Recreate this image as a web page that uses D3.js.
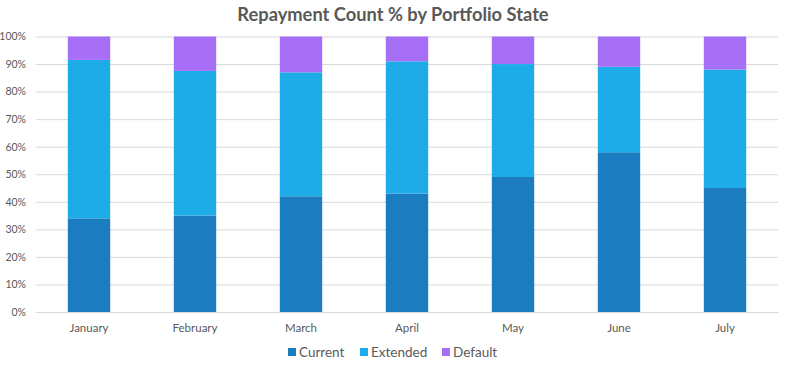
<!DOCTYPE html>
<html><head><meta charset="utf-8">
<script src="https://cdn.jsdelivr.net/npm/d3@7"></script>
<style>body{margin:0;background:#fff}svg{display:block}text{font-family:Lato,"Open Sans",sans-serif}</style>
</head><body><svg id="c" width="787" height="366"></svg>
<script>
const categories = ["January","February","March","April","May","June","July"];
const current = [34, 35, 42, 43, 49, 58, 45];
const extended = [57.5, 52.5, 45, 48, 41, 31, 43];
const defaulted = [8.5, 12.5, 13, 9, 10, 11, 12];
const seriesNames = ["Current","Extended","Default"];
const colors = ["#1c7cc0","#1eace8","#a66ff5"];
const yTicks = [0,10,20,30,40,50,60,70,80,90,100];

const svg = d3.select("#c");
const m = {l:36, r:9, t:36.5, b:54};
const W = 787, H = 366;
const x = d3.scaleBand().domain(categories).range([m.l, W-m.r]).paddingInner(0.6).paddingOuter(0.3);
const y = d3.scaleLinear().domain([0,100]).range([312, 36.5]);

svg.append("text").attr("x", 393).attr("y", 21).attr("text-anchor","middle")
  .attr("font-size", 18.3).attr("font-weight", "bold").attr("fill", "#595959")
  .text("Repayment Count % by Portfolio State");

const yAxis = svg.append("g").attr("transform", `translate(${m.l},0)`)
  .call(d3.axisLeft(y).tickValues(yTicks).tickSize(-(W-m.r-m.l)).tickFormat(d => d + "%"));
yAxis.select(".domain").remove();
yAxis.selectAll(".tick line").attr("stroke", "#d9d9d9").attr("stroke-width", 1);
yAxis.selectAll(".tick text").attr("x", -10).attr("font-size", 10.5).attr("fill", "#595959").attr("font-family","Lato,sans-serif");

const rows = categories.map((c,i) => ({cat:c, Current:current[i], Extended:extended[i], Default:defaulted[i]}));
const stacked = d3.stack().keys(seriesNames)(rows);
svg.append("g").selectAll("g").data(stacked).join("g").attr("fill", (d,i) => colors[i])
  .selectAll("rect").data(d => d).join("rect")
  .attr("x", d => x(d.data.cat)).attr("width", x.bandwidth())
  .attr("y", d => y(d[1])).attr("height", d => y(d[0]) - y(d[1]));

const xAxis = svg.append("g").attr("transform", `translate(0,312)`)
  .call(d3.axisBottom(x).tickSize(0));
xAxis.select(".domain").attr("stroke", "#d9d9d9");
xAxis.selectAll(".tick text").attr("dy", "1.5em").attr("font-size", 11.5).attr("fill", "#595959").attr("font-family","Lato,sans-serif");

const legendX = [288, 360, 442];
const lg = svg.append("g");
seriesNames.forEach((s,i) => {
  lg.append("rect").attr("x", legendX[i]).attr("y", 348).attr("width", 8).attr("height", 8).attr("fill", colors[i]);
  lg.append("text").attr("x", legendX[i] + 11).attr("y", 357).attr("font-size", 13.5).attr("fill", "#595959").text(s);
});
</script></body></html>
